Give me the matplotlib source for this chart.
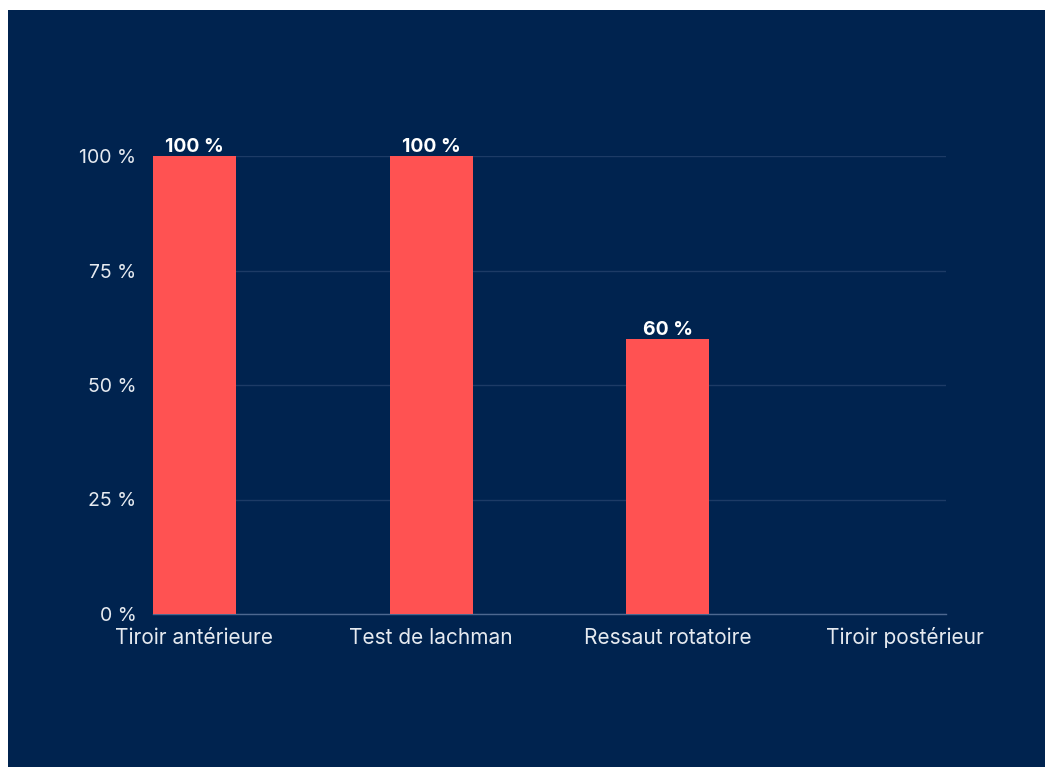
import matplotlib
matplotlib.use("Agg")
import matplotlib.pyplot as plt
import matplotlib.patches as patches

# Data
categories = ["Tiroir antérieure", "Test de lachman", "Ressaut rotatoire", "Tiroir postérieur"]
values = [100, 100, 60, 0]
y_ticks = [0, 25, 50, 75, 100]
y_tick_labels = ["0 %", "25 %", "50 %", "75 %", "100 %"]

bg = "#00234f"
bar_color = "#ff5252"
text_color = "#e6eaf0"

plt.rcParams["font.family"] = ["Inter", "DejaVu Sans"]

W, H = 1045, 767
fig = plt.figure(figsize=(W / 100, H / 100), dpi=100, facecolor="white")

# dark panel (white strip on top and left in the reference)
fig.patches.append(patches.Rectangle((8 / W, 0), (W - 8) / W, (H - 10) / H,
                                     transform=fig.transFigure, facecolor=bg,
                                     edgecolor="none", zorder=-10))

ax = fig.add_axes([153 / W, 1 - 614 / H, (946 - 153) / W, (614 - 156) / H])
ax.patch.set_alpha(0)

width = 0.35
x = range(len(categories))
bars = ax.bar(x, values, width=width, color=bar_color, zorder=3)

for b, v in zip(bars, values):
    if v > 0:
        ax.text(b.get_x() + b.get_width() / 2, v, f"{v} %",
                ha="center", va="bottom", color="white", fontsize=14,
                fontweight="bold")

ax.set_xlim(-width / 2, len(categories) - 1 + width / 2)
ax.set_ylim(0, 100)
ax.set_yticks(y_ticks)
ax.set_yticklabels(y_tick_labels)
ax.set_xticks(list(x))
ax.set_xticklabels([])

# category labels on a common baseline (accents would shift top-aligned labels)
for i, c in enumerate(categories):
    ax.text(i, -30 / 458, c, transform=ax.get_xaxis_transform(),
            ha="center", va="baseline", fontsize=15, color=text_color)

ax.tick_params(axis="y", length=0, pad=12, labelsize=14, labelcolor=text_color)
ax.tick_params(axis="x", length=0)

for s in ["top", "right", "left"]:
    ax.spines[s].set_visible(False)
ax.spines["bottom"].set_color("#4d6890")
ax.spines["bottom"].set_linewidth(1)

ax.yaxis.grid(True, color="#1d3b66", linewidth=1, zorder=0)
ax.set_axisbelow(True)

fig.savefig("out.png", dpi=100, facecolor="white")
